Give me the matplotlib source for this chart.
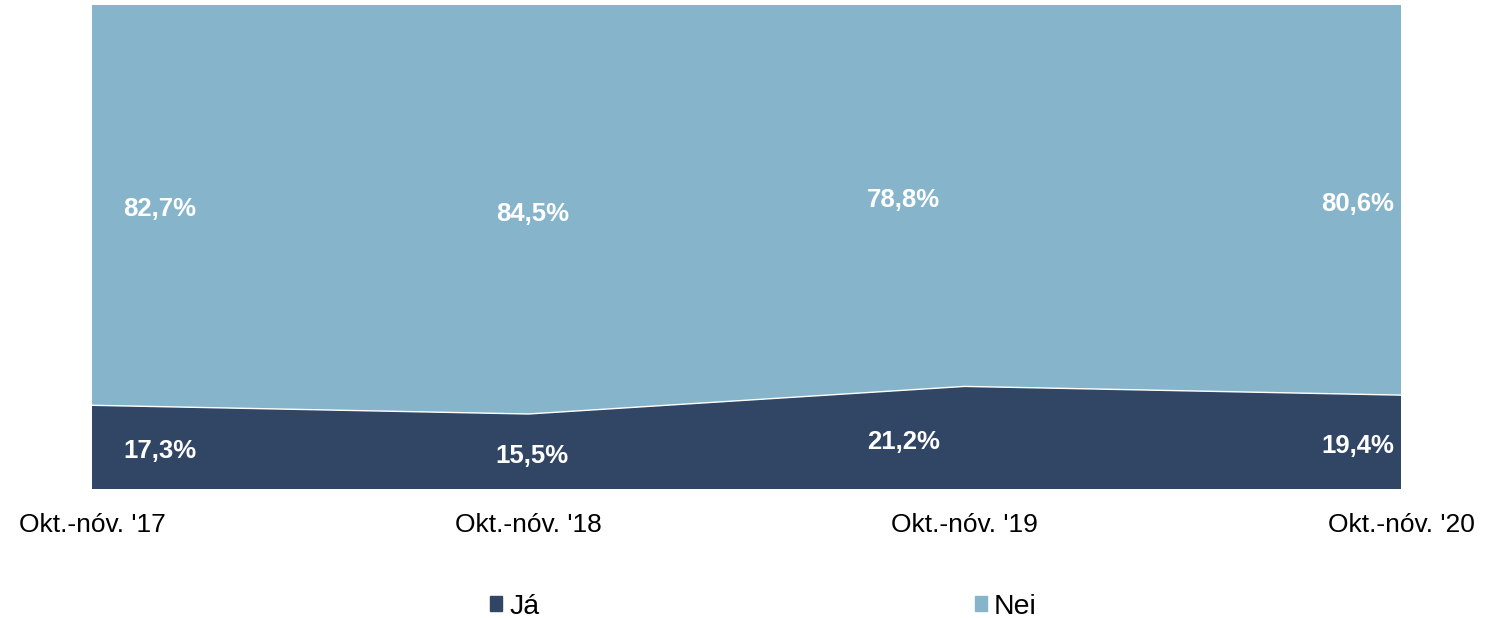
import numpy as np
import matplotlib.pyplot as plt
from matplotlib.patches import Patch

plt.rcParams['font.family'] = ['Liberation Sans', 'DejaVu Sans']

# Gögn
periods = ["Okt.-nóv. '17", "Okt.-nóv. '18", "Okt.-nóv. '19", "Okt.-nóv. '20"]
ja = [17.3, 15.5, 21.2, 19.4]
nei = [82.7, 84.5, 78.8, 80.6]

col_ja = '#314565'
col_nei = '#86b5cb'

fig = plt.figure(figsize=(15.11, 6.18), dpi=100)
ax = fig.add_axes([0.0609, 0.2087, 0.8663, 0.7832])

x = np.arange(len(periods))
ax.stackplot(x, ja, nei, colors=[col_ja, col_nei], linewidth=0)
ax.plot(x, ja, color='white', linewidth=1)

ax.set_xlim(0, len(periods) - 1)
ax.set_ylim(0, 100)
ax.set_yticks([])
ax.set_xticks(x)
ax.set_xticklabels(periods, fontsize=19)
ax.tick_params(axis='x', length=0, pad=17)
for s in ax.spines.values():
    s.set_visible(False)

# gildismerki - færð inn á við við jaðrana
dx = [68, 4, -61, -43]
for i in range(len(periods)):
    ax.annotate(f"{ja[i]:.1f}%".replace('.', ','), (x[i], ja[i] / 2),
                xytext=(dx[i], -4), textcoords='offset pixels',
                ha='center', va='center', color='white',
                fontsize=18.5, fontweight='bold')
    ax.annotate(f"{nei[i]:.1f}%".replace('.', ','), (x[i], ja[i] + nei[i] / 2),
                xytext=(dx[i], -4), textcoords='offset pixels',
                ha='center', va='center', color='white',
                fontsize=18.5, fontweight='bold')

handles = [Patch(color=col_ja, label='Já'), Patch(color=col_nei, label='Nei')]
fig.legend(handles=handles, loc='center', bbox_to_anchor=(763.5 / 1511, 1 - 607 / 618),
           ncol=2, frameon=False, fontsize=20.5, handlelength=0.42, handleheight=0.42,
           handletextpad=0.25, columnspacing=15.3, borderpad=0, borderaxespad=0)

fig.savefig('out.png', dpi=100)
